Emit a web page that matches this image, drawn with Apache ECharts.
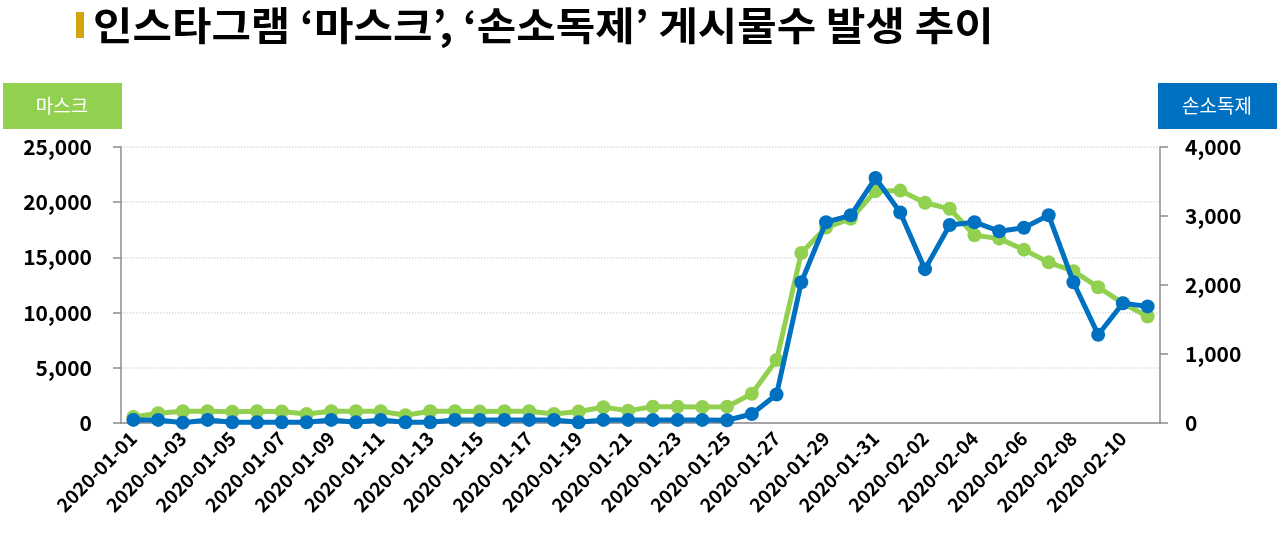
<!DOCTYPE html>
<html>
<head>
<meta charset="utf-8">
<script src="https://cdn.jsdelivr.net/npm/echarts@6/dist/echarts.min.js"></script>
<style>
  html, body { margin: 0; padding: 0; background: #fff; }
  #chart { width: 1280px; height: 534px; }
</style>
</head>
<body>
<div id="chart"></div>
<script>
// 날짜 (2020-01-01 ~ 2020-02-11)
const dates = [
  '2020-01-01', '2020-01-02', '2020-01-03', '2020-01-04', '2020-01-05', '2020-01-06', '2020-01-07',
  '2020-01-08', '2020-01-09', '2020-01-10', '2020-01-11', '2020-01-12', '2020-01-13', '2020-01-14',
  '2020-01-15', '2020-01-16', '2020-01-17', '2020-01-18', '2020-01-19', '2020-01-20', '2020-01-21',
  '2020-01-22', '2020-01-23', '2020-01-24', '2020-01-25', '2020-01-26', '2020-01-27', '2020-01-28',
  '2020-01-29', '2020-01-30', '2020-01-31', '2020-02-01', '2020-02-02', '2020-02-03', '2020-02-04',
  '2020-02-05', '2020-02-06', '2020-02-07', '2020-02-08', '2020-02-09', '2020-02-10', '2020-02-11'
]

// 마스크 게시물수 (왼쪽 축)
const maskValues = [
  550, 880, 1060, 1060, 1020, 1060, 1040, 820, 1060, 1060, 1060, 700, 1060, 1060,
  1040, 1060, 1060, 820, 1040, 1420, 1120, 1480, 1480, 1450, 1480, 2650, 5700, 15400,
  17700, 18500, 21000, 21050, 19950, 19400, 17000, 16700, 15700, 14550, 13750, 12300, 10850, 9650
]

// 손소독제 게시물수 (오른쪽 축)
const sanitizerValues = [
  45, 45, 5, 45, 10, 10, 10, 10, 45, 10, 45, 10, 10, 45,
  45, 45, 45, 45, 10, 45, 45, 45, 45, 45, 40, 130, 414, 2040,
  2910, 3010, 3550, 3050, 2230, 2870, 2910, 2780, 2830, 3010, 2040, 1280, 1735, 1690
]

const leftTicks = { min: 0, max: 25000, interval: 5000 }
const rightTicks = { min: 0, max: 4000, interval: 1000 }

const FONT = '"Noto Sans CJK KR", "Noto Sans", sans-serif'
const GREEN = '#92D050'
const BLUE = '#0070C0'
const AXIS_GRAY = '#8c8c8c'

const chart = echarts.init(document.getElementById('chart'))

const fmt = v => v.toLocaleString('en-US')

const option = {
  animation: false,
  graphic: [
    // 제목 (원본 글꼴이 더 넓어서 가로로 조금 늘림)
    {
      type: 'text', x: 93, y: 25, scaleX: 1.1,
      style: {
        text: '인스타그램 ‘마스크’, ‘손소독제’ 게시물수 발생 추이',
        fill: '#000',
        font: 'bold 39px ' + FONT,
        verticalAlign: 'middle'
      }
    },
    // 제목 앞 막대
    { type: 'rect', shape: { x: 76, y: 12, width: 8, height: 26 }, style: { fill: '#D4A20A' } },
    // 왼쪽 축 이름 박스
    { type: 'rect', shape: { x: 3, y: 83, width: 119, height: 46 }, style: { fill: GREEN } },
    {
      type: 'text', x: 62, y: 106,
      style: { text: '마스크', fill: '#fff', font: '19px ' + FONT, align: 'center', verticalAlign: 'middle' }
    },
    // 오른쪽 축 이름 박스
    { type: 'rect', shape: { x: 1158, y: 83, width: 119, height: 46 }, style: { fill: BLUE } },
    {
      type: 'text', x: 1217, y: 106,
      style: { text: '손소독제', fill: '#fff', font: '19px ' + FONT, align: 'center', verticalAlign: 'middle' }
    }
  ],
  grid: {
    left: 121,
    right: 120,
    top: 147,
    bottom: 111,
    containLabel: false
  },
  xAxis: {
    type: 'category',
    data: dates,
    boundaryGap: true,
    axisLine: { lineStyle: { color: AXIS_GRAY, width: 1.5 } },
    axisTick: { interval: 1, length: 7, lineStyle: { color: AXIS_GRAY, width: 1.5 } },
    axisLabel: {
      interval: 1,
      rotate: 45,
      margin: 12,
      color: '#000',
      fontFamily: FONT,
      fontSize: 19,
      fontWeight: 'bold'
    }
  },
  yAxis: [
    {
      type: 'value',
      min: leftTicks.min,
      max: leftTicks.max,
      interval: leftTicks.interval,
      axisLine: { show: true, lineStyle: { color: AXIS_GRAY, width: 1.5 } },
      axisTick: { show: true, length: 8, lineStyle: { color: AXIS_GRAY, width: 1.5 } },
      axisLabel: {
        formatter: fmt,
        margin: 29,
        color: '#000',
        fontFamily: FONT,
        fontSize: 21,
        fontWeight: 'bold'
      },
      splitLine: { show: true, lineStyle: { color: '#dcdcdc', type: 'dotted', width: 1.5 } }
    },
    {
      type: 'value',
      min: rightTicks.min,
      max: rightTicks.max,
      interval: rightTicks.interval,
      position: 'right',
      axisLine: { show: true, lineStyle: { color: AXIS_GRAY, width: 1.5 } },
      axisTick: { show: true, length: 8, lineStyle: { color: AXIS_GRAY, width: 1.5 } },
      axisLabel: {
        formatter: fmt,
        margin: 25,
        color: '#000',
        fontFamily: FONT,
        fontSize: 21,
        fontWeight: 'bold'
      },
      splitLine: { show: false }
    }
  ],
  series: [
    {
      name: '마스크',
      type: 'line',
      yAxisIndex: 0,
      data: maskValues,
      symbol: 'circle',
      symbolSize: 14,
      lineStyle: { color: GREEN, width: 5 },
      itemStyle: { color: GREEN },
      z: 2
    },
    {
      name: '손소독제',
      type: 'line',
      yAxisIndex: 1,
      data: sanitizerValues,
      symbol: 'circle',
      symbolSize: 14,
      lineStyle: { color: BLUE, width: 5 },
      itemStyle: { color: BLUE },
      z: 3
    }
  ]
}

chart.setOption(option)
window.addEventListener('resize', () => chart.resize())
</script>
</body>
</html>
